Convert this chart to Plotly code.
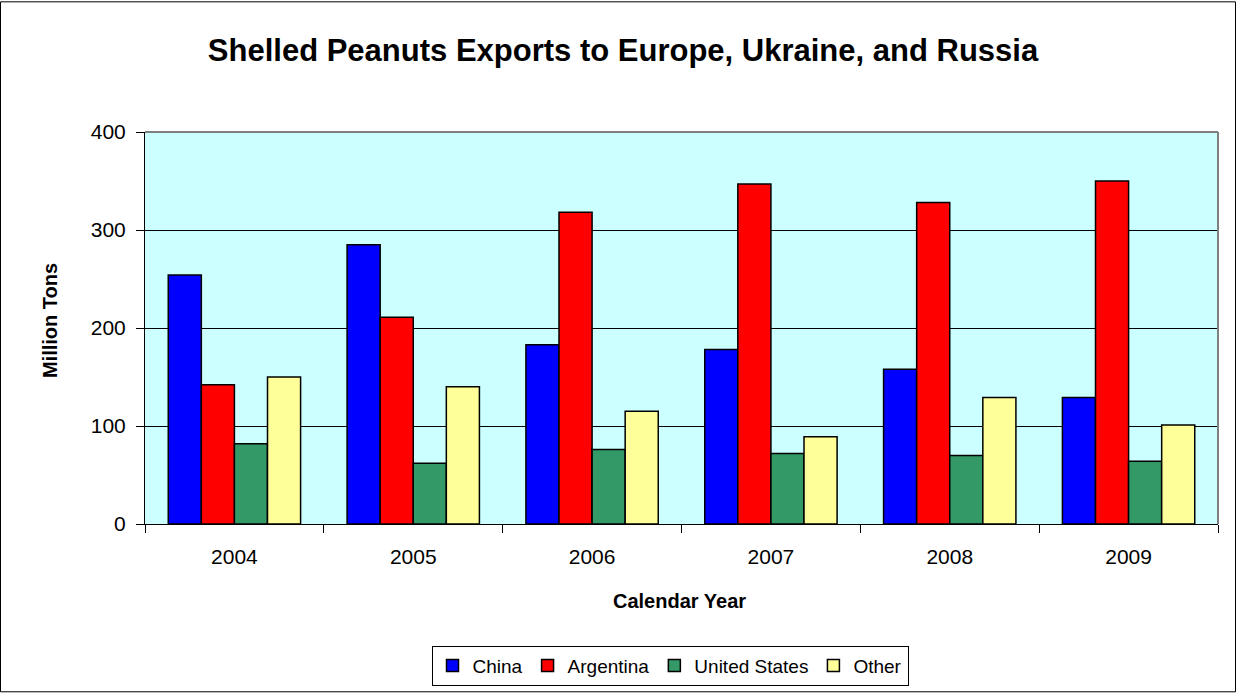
import plotly.graph_objects as go

years = ["2004", "2005", "2006", "2007", "2008", "2009"]
china = [254, 285, 183, 178, 158, 129]
argentina = [142, 211, 318, 347, 328, 350]
united_states = [82, 62, 76, 72, 70, 64]
other = [150, 140, 115, 89, 129, 101]

series = [
    ("China", china, "#0000FF"),
    ("Argentina", argentina, "#FF0000"),
    ("United States", united_states, "#339966"),
    ("Other", other, "#FFFF99"),
]

W, H = 1236, 698
ml, mr, mt, mb = 145, 18, 132, 170
pw, ph = W - ml - mr, H - mt - mb


def px(x):
    return (x - ml) / pw


def py(y):
    return 1 - (y - mt) / ph


fig = go.Figure()
for name, vals, col in series:
    fig.add_trace(go.Bar(
        x=years, y=vals, name=name,
        marker=dict(color=col, line=dict(color="black", width=1.5)),
    ))

font = "Liberation Sans, Arial, sans-serif"
fig.update_layout(
    width=W, height=H,
    margin=dict(l=ml, r=mr, t=mt, b=mb),
    paper_bgcolor="white",
    plot_bgcolor="#CCFFFF",
    barmode="group",
    bargap=0.26,
    bargroupgap=0,
    font=dict(family=font, size=22, color="black"),
    title=dict(
        text="<b>Shelled Peanuts Exports to Europe, Ukraine, and Russia</b>",
        x=623 / W, xanchor="center", y=1 - 50 / H, yanchor="middle",
        font=dict(family=font, size=31, color="black"),
    ),
    xaxis=dict(
        type="category",
        showline=True, linecolor="black", linewidth=1,
        ticks="outside", tickson="boundaries", ticklen=8, tickcolor="black",
        tickfont=dict(size=21), ticklabelstandoff=14,
    ),
    yaxis=dict(
        range=[0, 400], dtick=100,
        showline=True, linecolor="black", linewidth=1,
        ticks="outside", ticklen=8, tickcolor="black",
        tickfont=dict(size=21), ticklabelstandoff=6,
        showgrid=True, gridcolor="black", gridwidth=1,
        zeroline=False,
    ),
    legend=dict(
        orientation="h",
        x=px(670), xanchor="center",
        y=py(651), yanchor="top",
        bordercolor="black", borderwidth=1,
        font=dict(size=19),
        itemwidth=30,
        traceorder="normal",
    ),
    showlegend=True,
)

fig.add_annotation(text="<b>Calendar Year</b>", xref="paper", yref="paper",
                   x=px(679), y=py(606), xanchor="center", yanchor="middle",
                   showarrow=False, font=dict(size=20))
fig.add_annotation(text="<b>Million Tons</b>", xref="paper", yref="paper",
                   x=px(50), y=py(323), xanchor="center", yanchor="middle",
                   textangle=-90, showarrow=False, font=dict(size=20))

# plot area top/right gray border
fig.add_shape(type="line", xref="paper", yref="paper", x0=0, x1=1, y0=1, y1=1,
              line=dict(color="#808080", width=2))
fig.add_shape(type="line", xref="paper", yref="paper", x0=1, x1=1, y0=0, y1=1,
              line=dict(color="#808080", width=2))
# outer chart border
fig.add_shape(type="rect", xref="paper", yref="paper",
              x0=px(0.5), x1=px(W - 0.5),
              y0=py(H - 0.5), y1=py(0.5),
              line=dict(color="black", width=1), layer="above")

fig.write_html("out.html",
               config={"displayModeBar": False},
               post_script="document.body.style.margin='0';document.body.style.overflow='hidden';")
